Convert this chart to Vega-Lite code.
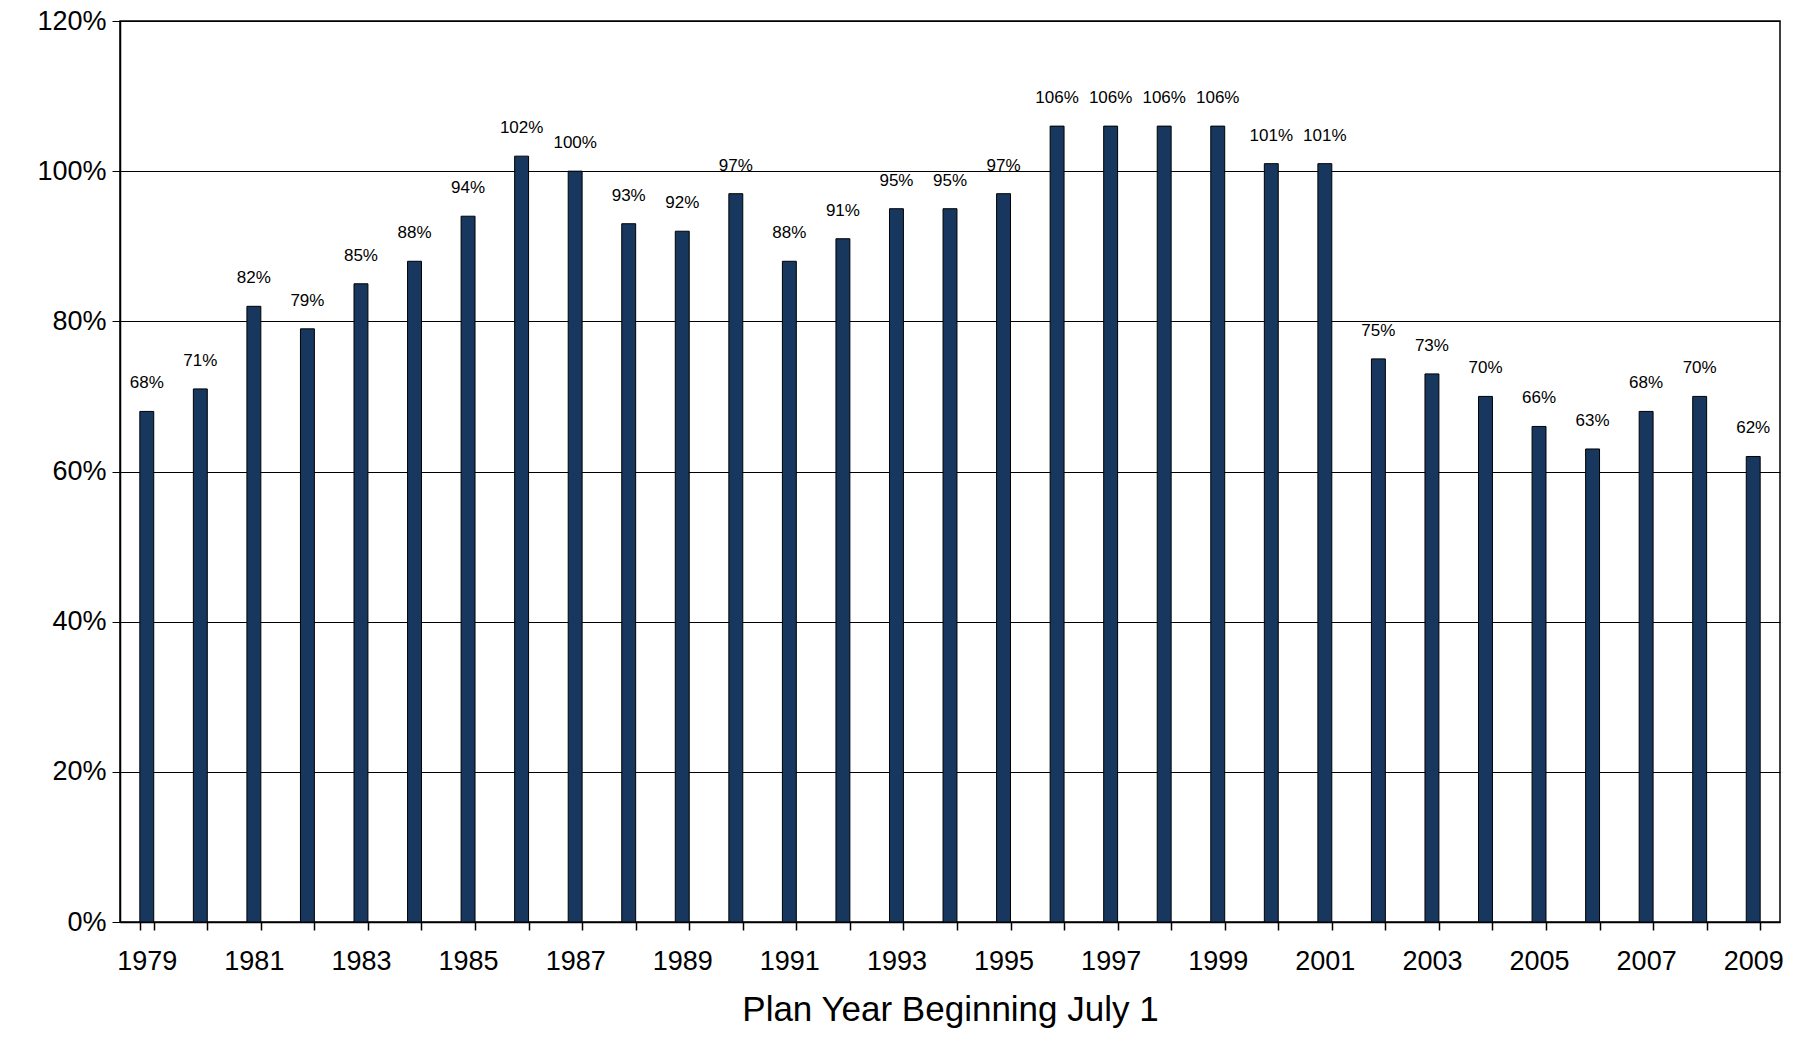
{
  "$schema": "https://vega.github.io/schema/vega-lite/v6.json",
  "width": 1660,
  "height": 901,
  "autosize": "none",
  "padding": {"left": 120, "top": 21, "right": 25, "bottom": 120},
  "background": "white",
  "config": {
    "view": {"stroke": "black", "strokeWidth": 1.5},
    "font": "Liberation Sans"
  },
  "data": {
    "values": [
      {"year": "1979", "v": 0.68}, {"year": "1980", "v": 0.71}, {"year": "1981", "v": 0.82},
      {"year": "1982", "v": 0.79}, {"year": "1983", "v": 0.85}, {"year": "1984", "v": 0.88},
      {"year": "1985", "v": 0.94}, {"year": "1986", "v": 1.02}, {"year": "1987", "v": 1.00},
      {"year": "1988", "v": 0.93}, {"year": "1989", "v": 0.92}, {"year": "1990", "v": 0.97},
      {"year": "1991", "v": 0.88}, {"year": "1992", "v": 0.91}, {"year": "1993", "v": 0.95},
      {"year": "1994", "v": 0.95}, {"year": "1995", "v": 0.97}, {"year": "1996", "v": 1.06},
      {"year": "1997", "v": 1.06}, {"year": "1998", "v": 1.06}, {"year": "1999", "v": 1.06},
      {"year": "2000", "v": 1.01}, {"year": "2001", "v": 1.01}, {"year": "2002", "v": 0.75},
      {"year": "2003", "v": 0.73}, {"year": "2004", "v": 0.70}, {"year": "2005", "v": 0.66},
      {"year": "2006", "v": 0.63}, {"year": "2007", "v": 0.68}, {"year": "2008", "v": 0.70},
      {"year": "2009", "v": 0.62}
    ]
  },
  "encoding": {
    "x": {
      "field": "year", "type": "ordinal",
      "scale": {"paddingInner": 0.74, "paddingOuter": 0.37},
      "axis": {
        "title": "Plan Year Beginning July 1",
        "titleFontSize": 35, "titleFontWeight": "normal", "titleColor": "black", "titlePadding": 18,
        "labelAngle": 0, "labelFontSize": 27, "labelColor": "black", "labelPadding": 18,
        "labelExpr": "toNumber(datum.value) % 2 == 1 ? datum.value : ''",
        "tickBand": "extent", "tickColor": "black", "tickSize": 8, "tickWidth": 1.5,
        "domainColor": "black", "domainWidth": 1.5
      }
    },
    "y": {
      "field": "v", "type": "quantitative",
      "scale": {"domain": [0, 1.2]},
      "axis": {
        "title": null, "format": ".0%", "values": [0, 0.2, 0.4, 0.6, 0.8, 1.0, 1.2],
        "labelFontSize": 27, "labelColor": "black", "labelPadding": 6,
        "grid": true, "gridColor": "black", "gridWidth": 1.2,
        "tickColor": "black", "tickSize": 8, "domainColor": "black", "domainWidth": 1.5
      }
    }
  },
  "layer": [
    {"mark": {"type": "bar", "color": "#17375E", "stroke": "black", "strokeWidth": 1}},
    {
      "mark": {"type": "text", "dy": -28, "fontSize": 17, "font": "Liberation Sans", "color": "black"},
      "encoding": {"text": {"field": "v", "format": ".0%"}}
    }
  ]
}
